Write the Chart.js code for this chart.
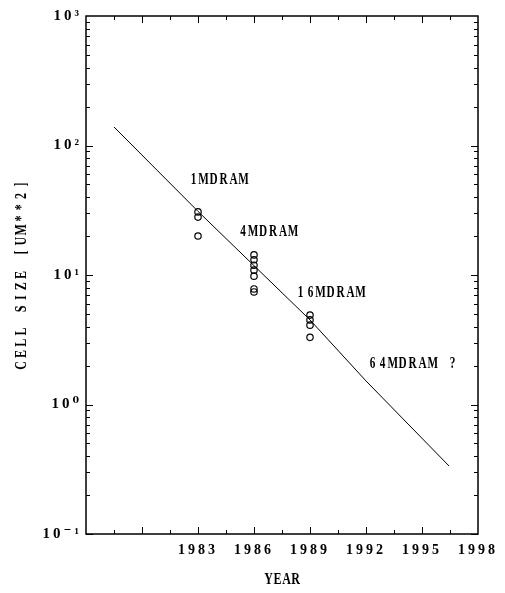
<!DOCTYPE html>
<html>
<head>
<meta charset="utf-8">
<script src="https://cdn.jsdelivr.net/npm/chart.js@4"></script>
<style>
  html, body { margin: 0; padding: 0; background: #fff; }
  #caixa { width: 505px; height: 593px; }
</style>
</head>
<body>
<div id="caixa"><canvas id="grafico-dram"></canvas></div>
<script>
// valores
const chipYears = [1983, 1983, 1983, 1986, 1986, 1986, 1986, 1986, 1986, 1986, 1989, 1989, 1989, 1989];
const cellSizes = [30.7, 28.0, 20.0, 14.3, 13.1, 11.9, 10.9, 9.8, 7.8, 7.4, 4.9, 4.5, 4.1, 3.3];

const trendYears = [1978.5, 1983, 1989, 1992, 1996.45];
const trendSizes = [139, 31, 4.5, 1.52, 0.335];

const noteTexts = ['1MDRAM', '4MDRAM', '16MDRAM', '64MDRAM ?'];
const noteYears = [1984.1, 1986.75, 1990.1, 1994.5];
const noteSizes = [54, 21.5, 7.3, 2.06];

const yearTicks = [1983, 1986, 1989, 1992, 1995, 1998];
const sizeTicks = [0.1, 1, 10, 100, 1000];
const sizeTickLabels = ['10⁻¹', '10⁰', '10¹', '10²', '10³'];

const xTitle = 'YEAR';
const yTitle = 'CELL SIZE [UM**2]';

const FONTE = '"Liberation Serif", "DejaVu Serif", serif';

// escreve caractere por caractere, passo fixo (parece fonte de plotter)
function textoMono(ctx, text, cx, cy, passo, aperto, rot) {
    ctx.save();
    ctx.translate(cx, cy);
    if (rot) ctx.rotate(rot);
    const inicio = -passo * text.length / 2 + passo / 2;
    for (let i = 0; i < text.length; i++) {
        ctx.save();
        ctx.translate(inicio + i * passo, 0);
        ctx.scale(aperto, 1);
        ctx.fillText(text[i], 0, 0);
        ctx.restore();
    }
    ctx.restore();
}

const moldura = {
    id: 'moldura',
    beforeDraw(chart) {
        chart.ctx.letterSpacing = '3px';
    },
    afterDraw(chart) {
        const { ctx, chartArea: a, scales: { x, y } } = chart;
        ctx.save();
        ctx.letterSpacing = '0px';
        ctx.strokeStyle = '#000';
        ctx.fillStyle = '#000';

        ctx.lineWidth = 1.5;
        ctx.strokeRect(a.left, a.top, a.right - a.left, a.bottom - a.top);

        // marcas para dentro, nos quatro lados
        ctx.lineWidth = 1;
        ctx.beginPath();
        for (let v = 1978.5; v < 1998; v += 1.5) {
            const px = Math.round(x.getPixelForValue(v)) + 0.5;
            const len = (v % 3 === 0) ? 7 : 4;
            ctx.moveTo(px, a.bottom); ctx.lineTo(px, a.bottom - len);
            ctx.moveTo(px, a.top); ctx.lineTo(px, a.top + len);
        }
        for (let d = -1; d < 3; d++) {
            for (let m = 1; m < 10; m++) {
                const v = m * Math.pow(10, d);
                const py = Math.round(y.getPixelForValue(v)) + 0.5;
                const len = m === 1 ? 7 : 4;
                ctx.moveTo(a.left, py); ctx.lineTo(a.left + len, py);
                ctx.moveTo(a.right, py); ctx.lineTo(a.right - len, py);
            }
        }
        ctx.stroke();

        // rótulos dos chips
        ctx.font = 'bold 16px ' + FONTE;
        ctx.textAlign = 'center';
        ctx.textBaseline = 'middle';
        noteTexts.forEach((t, i) => {
            textoMono(ctx, t, x.getPixelForValue(noteYears[i]), y.getPixelForValue(noteSizes[i]), 10, 0.7);
        });

        // títulos dos eixos
        ctx.font = 'bold 16px ' + FONTE;
        textoMono(ctx, yTitle, 22, (a.top + a.bottom) / 2, 11.3, 0.75, -Math.PI / 2);
        textoMono(ctx, xTitle, (a.left + a.right) / 2, 580, 9, 0.75);
        ctx.restore();
    }
};

new Chart(document.getElementById('grafico-dram'), {
    type: 'scatter',
    data: {
        datasets: [
            {
                label: 'tendência',
                data: trendYears.map((ano, i) => ({ x: ano, y: trendSizes[i] })),
                showLine: true,
                borderColor: '#000',
                borderWidth: 1,
                pointRadius: 0
            },
            {
                label: 'DRAM',
                data: chipYears.map((ano, i) => ({ x: ano, y: cellSizes[i] })),
                pointRadius: 3.2,
                borderColor: '#000',
                borderWidth: 1.2,
                backgroundColor: 'rgba(0,0,0,0)'
            }
        ]
    },
    options: {
        responsive: true,
        maintainAspectRatio: false,
        animation: false,
        layout: { padding: { left: 0, right: 27, top: 16, bottom: 0 } },
        plugins: {
            legend: { display: false },
            tooltip: { enabled: false }
        },
        scales: {
            x: {
                type: 'linear',
                min: 1977,
                max: 1998,
                afterBuildTicks: s => { s.ticks = yearTicks.map(v => ({ value: v })); },
                afterFit: s => { s.height = 59; },
                grid: { display: false, drawTicks: false },
                border: { display: false },
                ticks: {
                    padding: 8,
                    color: '#000',
                    maxRotation: 0,
                    autoSkip: false,
                    font: { family: FONTE, size: 14, weight: 'bold' },
                    callback: v => String(v)
                }
            },
            y: {
                type: 'logarithmic',
                min: 0.1,
                max: 1000,
                afterBuildTicks: s => { s.ticks = sizeTicks.map(v => ({ value: v })); },
                afterFit: s => { s.width = 86; },
                grid: { display: false, drawTicks: false },
                border: { display: false },
                ticks: {
                    padding: 4,
                    color: '#000',
                    autoSkip: false,
                    font: { family: FONTE, size: 15, weight: 'bold' },
                    callback: v => sizeTickLabels[sizeTicks.indexOf(v)] ?? ''
                }
            }
        }
    },
    plugins: [moldura]
});
</script>
</body>
</html>
